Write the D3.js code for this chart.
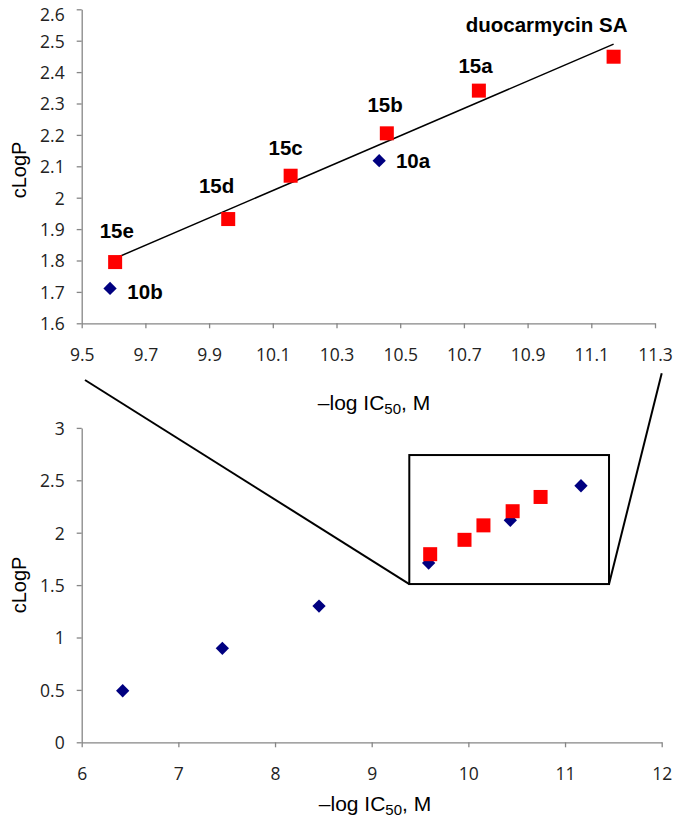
<!DOCTYPE html>
<html>
<head>
<meta charset="utf-8">
<script src="https://cdn.jsdelivr.net/npm/d3@7"></script>
<style>
  html, body { margin: 0; padding: 0; background: #fff; }
  svg { display: block; }
  .tick text { font-family: "Open Sans", "Noto Sans", sans-serif; font-size: 17.5px; fill: #222; }
  .axis path, .axis line { stroke: #868686; stroke-width: 1.3; }
  .title { font-family: "Liberation Sans", Arial, sans-serif; fill: #000; }
  .lbl { font-family: "Liberation Sans", Arial, sans-serif; font-size: 20.5px; font-weight: bold; fill: #000; }
</style>
</head>
<body>
<script>
// ---------- data ----------
// Top (zoomed) panel
const topSquareNames = ["15e", "15d", "15c", "15b", "15a", "duocarmycin SA"];
const topSquareX = [9.605, 9.96, 10.156, 10.458, 10.747, 11.17];
const topSquareY = [1.795, 1.932, 2.07, 2.205, 2.341, 2.449];
const topDiamondNames = ["10b", "10a"];
const topDiamondX = [9.589, 10.434];
const topDiamondY = [1.711, 2.118];
const trendX = [9.605, 11.17];
const trendY = [1.807, 2.489];
const topXTicks = [9.5, 9.7, 9.9, 10.1, 10.3, 10.5, 10.7, 10.9, 11.1, 11.3];
const topXTickLabels = ["9.5", "9.7", "9.9", "10.1", "10.3", "10.5", "10.7", "10.9", "11.1", "11.3"];
const topYTicks = [1.6, 1.7, 1.8, 1.9, 2.0, 2.1, 2.2, 2.3, 2.4, 2.5, 2.6];
const topYTickLabels = ["1.6", "1.7", "1.8", "1.9", "2", "2.1", "2.2", "2.3", "2.4", "2.5", "2.6"];

// Bottom (full) panel
const botDiamondX = [6.424, 7.455, 8.455, 9.589, 10.434, 11.165];
const botDiamondY = [0.492, 0.897, 1.30, 1.711, 2.118, 2.448];
const botSquareX = [9.605, 9.96, 10.156, 10.458, 10.747];
const botSquareY = [1.795, 1.932, 2.07, 2.205, 2.341];
const botXTicks = [6, 7, 8, 9, 10, 11, 12];
const botXTickLabels = ["6", "7", "8", "9", "10", "11", "12"];
const botYTicks = [0, 0.5, 1, 1.5, 2, 2.5, 3];
const botYTickLabels = ["0", "0.5", "1", "1.5", "2", "2.5", "3"];

// zoom box & connector ends, in bottom-panel data units
const zoomBoxX = [9.389, 11.455];
const zoomBoxY = [1.51, 2.741];
const connectorTopX = [6.034, 12.0];
const connectorTopY = [3.457, 3.521];

const xTitle = "\u2013log IC";
const xTitleSub = "50";
const xTitleEnd = ", M";
const yTitle = "cLogP";

// ---------- layout ----------
const W = 675, H = 826;
const svg = d3.select("body").append("svg").attr("width", W).attr("height", H);

const xTop = d3.scaleLinear().domain([9.5, 11.3]).range([81.7, 655]);
const yTop = d3.scaleLinear().domain([1.6, 2.6]).range([323.3, 9.3]);
const xBot = d3.scaleLinear().domain([6, 12]).range([81.7, 661.7]);
const yBot = d3.scaleLinear().domain([0, 3]).range([742.3, 427.9]);

function drawAxes(xs, ys, xt, xl, yt, yl) {
  svg.append("g").attr("class", "axis")
    .attr("transform", `translate(0,${ys.range()[0]})`)
    .call(d3.axisBottom(xs).tickValues(xt).tickFormat((d, i) => xl[i]).tickSize(5).tickSizeOuter(0).tickPadding(20));
  const gy = svg.append("g").attr("class", "axis")
    .attr("transform", `translate(${xs.range()[0]},0)`)
    .call(d3.axisLeft(ys).tickValues(yt).tickFormat((d, i) => yl[i]).tickSize(5).tickSizeOuter(0).tickPadding(12));
  gy.selectAll(".tick text").attr("dy", "0.36em");
  return gy;
}

const gyTop = drawAxes(xTop, yTop, topXTicks, topXTickLabels, topYTicks, topYTickLabels);
drawAxes(xBot, yBot, botXTicks, botXTickLabels, botYTicks, botYTickLabels);
// keep the top-most label inside the picture (as the reference does)
gyTop.selectAll(".tick text").filter(d => d === 2.6).attr("dy", "0.62em");

function xTitleText(cx, baseline) {
  const t = svg.append("text").attr("class", "title").style("font-size", "21px")
    .attr("x", cx).attr("y", baseline).attr("text-anchor", "middle");
  t.append("tspan").text(xTitle);
  t.append("tspan").style("font-size", "15px").attr("dy", 4).text(xTitleSub);
  t.append("tspan").attr("dy", -4).text(xTitleEnd);
}
function yTitleText(cx, cy) {
  svg.append("text").attr("class", "title").style("font-size", "20px")
    .attr("transform", `translate(${cx},${cy}) rotate(-90)`)
    .attr("text-anchor", "middle").attr("dy", "0.35em").text(yTitle);
}
xTitleText(374, 410);
xTitleText(375, 811);
yTitleText(19, 170);
yTitleText(19, 585);

function drawDiamonds(xs, ys, X, Y) {
  svg.append("g").selectAll("rect").data(X).join("rect")
    .attr("width", 9.4).attr("height", 9.4).attr("x", -4.7).attr("y", -4.7)
    .attr("transform", (d, i) => `translate(${xs(d)},${ys(Y[i])}) rotate(45)`)
    .attr("fill", "#000080");
}
function drawSquares(xs, ys, X, Y) {
  svg.append("g").selectAll("rect").data(X).join("rect")
    .attr("x", d => xs(d) - 7).attr("y", (d, i) => ys(Y[i]) - 7)
    .attr("width", 14).attr("height", 14).attr("fill", "#ff0000");
}

// ---- top panel ----
svg.append("line")
  .attr("x1", xTop(trendX[0])).attr("y1", yTop(trendY[0]))
  .attr("x2", xTop(trendX[1])).attr("y2", yTop(trendY[1]))
  .attr("stroke", "#000").attr("stroke-width", 1.5);
drawDiamonds(xTop, yTop, topDiamondX, topDiamondY);
drawSquares(xTop, yTop, topSquareX, topSquareY);

const sqLabelOffset = [[1.7, -24], [-11.6, -25.7], [-5, -20.7], [-1.7, -21], [-3.3, -18], [-67, -25]];
svg.append("g").selectAll("text").data(topSquareNames).join("text")
  .attr("class", "lbl").attr("text-anchor", "middle")
  .attr("x", (d, i) => xTop(topSquareX[i]) + sqLabelOffset[i][0])
  .attr("y", (d, i) => yTop(topSquareY[i]) + sqLabelOffset[i][1])
  .text(d => d);
const dmLabelOffset = [[17.3, 10.7], [16.7, 7.6]];
svg.append("g").selectAll("text").data(topDiamondNames).join("text")
  .attr("class", "lbl").attr("text-anchor", "start")
  .attr("x", (d, i) => xTop(topDiamondX[i]) + dmLabelOffset[i][0])
  .attr("y", (d, i) => yTop(topDiamondY[i]) + dmLabelOffset[i][1])
  .text(d => d);

// ---- bottom panel ----
drawDiamonds(xBot, yBot, botDiamondX, botDiamondY);
drawSquares(xBot, yBot, botSquareX, botSquareY);

svg.append("rect")
  .attr("x", xBot(zoomBoxX[0])).attr("y", yBot(zoomBoxY[1]))
  .attr("width", xBot(zoomBoxX[1]) - xBot(zoomBoxX[0]))
  .attr("height", yBot(zoomBoxY[0]) - yBot(zoomBoxY[1]))
  .attr("fill", "none").attr("stroke", "#000").attr("stroke-width", 2);
[0, 1].forEach(i => {
  svg.append("line")
    .attr("x1", xBot(connectorTopX[i])).attr("y1", yBot(connectorTopY[i]))
    .attr("x2", xBot(zoomBoxX[i])).attr("y2", yBot(zoomBoxY[0]))
    .attr("stroke", "#000").attr("stroke-width", 2);
});
</script>
</body>
</html>
